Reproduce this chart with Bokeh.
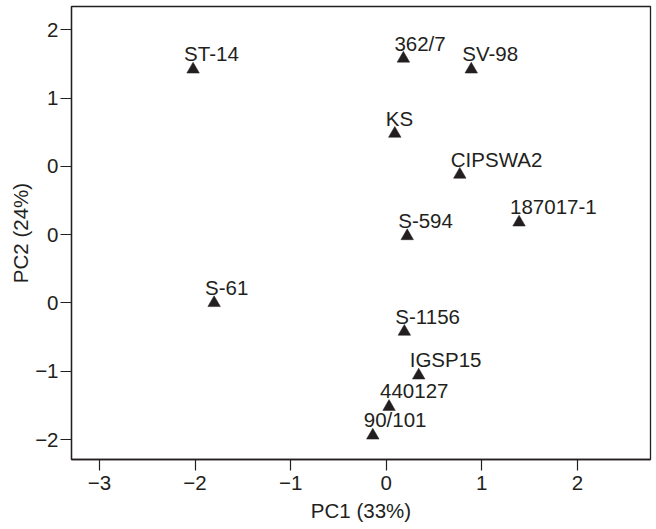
from bokeh.plotting import figure
from bokeh.models import ColumnDataSource, Range1d, FixedTicker
from bokeh.core.properties import value
from bokeh.embed import file_html
from bokeh.resources import INLINE

# ---- data ----
names = ["ST-14", "362/7", "SV-98", "KS", "CIPSWA2", "S-594", "187017-1",
         "S-61", "S-1156", "IGSP15", "440127", "90/101"]
pc1 = [-2.02, 0.18, 0.89, 0.09, 0.77, 0.22, 1.39, -1.80, 0.19, 0.34, 0.03, -0.14]
pc2 = [1.21, 1.29, 1.21, 0.74, 0.44, -0.01, 0.09, -0.50, -0.71, -1.03, -1.26, -1.47]

x_ticks = [-3, -2, -1, 0, 1, 2]
x_tick_labels = ["\u22123", "\u22122", "\u22121", "0", "1", "2"]
y_ticks = [1.5, 1.0, 0.5, 0.0, -0.5, -1.0, -1.5]
y_tick_labels = ["2", "1", "0", "0", "0", "\u22121", "\u22122"]

x_title = "PC1 (33%)"
y_title = "PC2 (24%)"

INK = "#231f20"
FONT = "Liberation Sans"
FS = "20.5px"

src = ColumnDataSource(dict(x=pc1, y=pc2, name=names))

p = figure(width=656, height=529, output_backend="svg", toolbar_location=None,
           x_range=Range1d(-3.292, 2.765), y_range=Range1d(-1.646, 1.671),
           min_border_left=71, min_border_right=6, min_border_top=6,
           min_border_bottom=70)
p.grid.visible = False
p.outline_line_color = INK
p.outline_line_width = 1.3
p.background_fill_color = "white"
p.border_fill_color = "white"

p.scatter(x="x", y="y", source=src, marker="triangle", size=12.5,
          fill_color=INK, line_color=INK, line_width=0.5)
p.text(x="x", y="y", text="name", source=src, x_offset=-9, y_offset=-15.5,
       text_align="left", text_baseline="alphabetic",
       text_font=value(FONT), text_font_size=FS, text_color=INK)

p.xaxis.ticker = FixedTicker(ticks=x_ticks)
p.xaxis.major_label_overrides = {t: l for t, l in zip(x_ticks, x_tick_labels)}
p.yaxis.ticker = FixedTicker(ticks=y_ticks)
p.yaxis.major_label_overrides = {t: l for t, l in zip(y_ticks, y_tick_labels)}

for ax in (p.xaxis[0], p.yaxis[0]):
    ax.axis_line_color = INK
    ax.axis_line_width = 1.3
    ax.major_tick_line_color = INK
    ax.major_tick_line_width = 1.2
    ax.major_tick_out = 11
    ax.major_tick_in = 0
    ax.minor_tick_line_color = None
    ax.major_label_text_font = FONT
    ax.major_label_text_font_size = FS
    ax.major_label_text_color = INK
    ax.axis_label_text_font = FONT
    ax.axis_label_text_font_size = FS
    ax.axis_label_text_font_style = "normal"
    ax.axis_label_text_color = INK

p.xaxis.axis_label = x_title
p.yaxis.axis_label = y_title
p.xaxis.major_label_standoff = 5
p.xaxis.axis_label_standoff = 6
p.yaxis.major_label_standoff = 2
p.yaxis.axis_label_standoff = 0

open("out.html", "w").write(file_html(p, INLINE))
